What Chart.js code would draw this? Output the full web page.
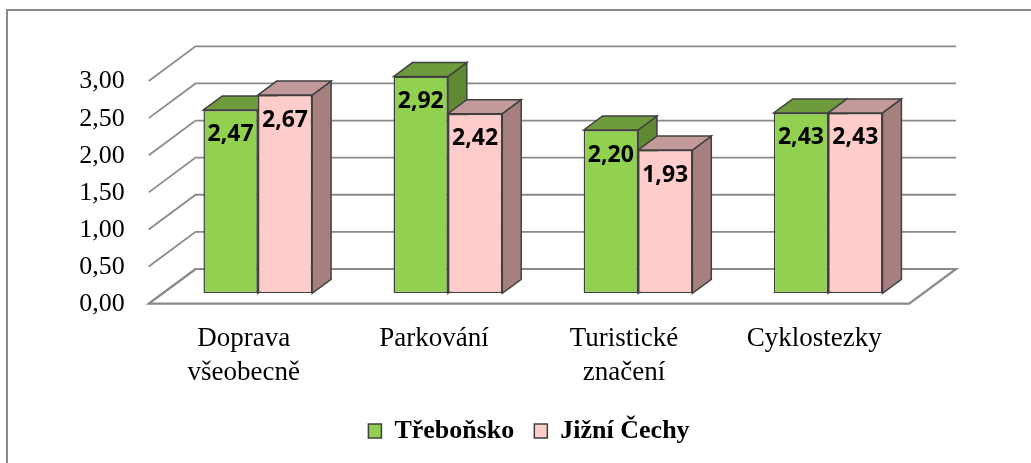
<!DOCTYPE html>
<html>
<head>
<meta charset="utf-8">
<script src="https://cdn.jsdelivr.net/npm/chart.js@4/dist/chart.umd.min.js"></script>
<style>
  html, body { margin: 0; padding: 0; background: #ffffff; }
  #wrap { position: relative; width: 1031px; height: 463px; }
</style>
</head>
<body>
<div id="wrap"><canvas id="c" width="1031" height="463"></canvas></div>
<script>
// ---- data ----
const categories = [['Doprava', 'všeobecně'], 'Parkování', ['Turistické', 'značení'], 'Cyklostezky'];
const seriesNames = ['Třeboňsko', 'Jižní Čechy'];
const trebonsko = [2.47, 2.92, 2.20, 2.43];
const jizniCechy = [2.67, 2.42, 1.93, 2.43];
const valueLabels = [['2,47', '2,92', '2,20', '2,43'], ['2,67', '2,42', '1,93', '2,43']];
const yTickLabels = ['0,00', '0,50', '1,00', '1,50', '2,00', '2,50', '3,00'];

// ---- styles ----
const frontColors = ['#92D050', '#FFCCCC'];
const topColors = ['#6E9C3D', '#C29A9A'];
const sideColors = ['#5F8A32', '#A6807E'];
const outline = '#404040';
const gridColor = '#8A8A8A';
const F = { dx: -14, dy: 10.4 };   // front plane offset from bar plane
const B = { dx: 32.8, dy: -24.3 }; // back wall offset from bar plane
const D = { dx: 18.9, dy: -14 };   // bar depth

function poly(ctx, pts, fill, stroke, lw) {
  ctx.beginPath();
  ctx.moveTo(pts[0][0], pts[0][1]);
  for (let i = 1; i < pts.length; i++) ctx.lineTo(pts[i][0], pts[i][1]);
  ctx.closePath();
  if (fill) { ctx.fillStyle = fill; ctx.fill(); }
  if (stroke) { ctx.strokeStyle = stroke; ctx.lineWidth = lw; ctx.lineJoin = 'miter'; ctx.stroke(); }
}

const threeD = {
  id: 'threeD',
  beforeDatasetsDraw(chart) {
    const ctx = chart.ctx;
    const a = chart.chartArea;
    const ys = chart.scales.y;
    ctx.save();
    // outer frame
    ctx.strokeStyle = gridColor; ctx.lineWidth = 2;
    ctx.beginPath();
    ctx.moveTo(7, chart.height + 5); ctx.lineTo(7, 10); ctx.lineTo(chart.width + 5, 10);
    ctx.stroke();

    const y0 = ys.getPixelForValue(0);
    // floor
    poly(ctx, [[a.left + F.dx, y0 + F.dy], [a.right + F.dx, y0 + F.dy], [a.right + B.dx, y0 + B.dy], [a.left + B.dx, y0 + B.dy]], '#ffffff', gridColor, 2.2);
    // grid lines on back and left walls
    ctx.strokeStyle = gridColor; ctx.lineWidth = 1.8;
    ys.ticks.forEach(t => {
      const y = ys.getPixelForValue(t.value);
      ctx.beginPath();
      ctx.moveTo(a.left + F.dx, y + F.dy);
      ctx.lineTo(a.left + B.dx, y + B.dy);
      ctx.lineTo(a.right + B.dx, y + B.dy);
      ctx.stroke();
    });

    // bar tops and sides (drawn before the front faces)
    const n = chart.data.labels.length;
    for (let i = 0; i < n; i++) {
      chart.data.datasets.forEach((ds, di) => {
        const el = chart.getDatasetMeta(di).data[i];
        const l = el.x - el.width / 2, r = el.x + el.width / 2;
        const top = el.y, base = el.base;
        // side
        poly(ctx, [[r, top], [r + D.dx, top + D.dy], [r + D.dx, base + D.dy], [r, base]], sideColors[di], outline, 1.5);
        // top
        poly(ctx, [[l, top], [l + D.dx, top + D.dy], [r + D.dx, top + D.dy], [r, top]], topColors[di], outline, 1.5);
      });
    }
    ctx.restore();
  },
  afterDatasetsDraw(chart) {
    const ctx = chart.ctx;
    ctx.save();
    ctx.fillStyle = '#000000';
    ctx.font = 'bold 23px "Open Sans"';
    ctx.textAlign = 'center';
    ctx.textBaseline = 'middle';
    chart.data.datasets.forEach((ds, di) => {
      chart.getDatasetMeta(di).data.forEach((el, i) => {
        ctx.fillText(valueLabels[di][i], el.x, el.y + 25);
      });
    });
    ctx.restore();
  }
};

new Chart(document.getElementById('c'), {
  type: 'bar',
  data: {
    labels: categories,
    datasets: [
      { label: seriesNames[0], data: trebonsko, backgroundColor: frontColors[0], borderColor: outline, borderWidth: 1.5, borderSkipped: false },
      { label: seriesNames[1], data: jizniCechy, backgroundColor: frontColors[1], borderColor: outline, borderWidth: 1.5, borderSkipped: false }
    ]
  },
  options: {
    responsive: false,
    animation: false,
    events: [],
    categoryPercentage: 0.572,
    barPercentage: 1.0,
    layout: { padding: { top: 70.6, left: 27, right: 0, bottom: 9 } },
    plugins: {
      tooltip: { enabled: false },
      legend: {
        position: 'bottom',
        labels: {
          boxWidth: 13, boxHeight: 14, padding: 20,
          color: '#000000',
          font: { family: '"Liberation Serif", "Times New Roman", serif', size: 26, weight: 'bold' }
        }
      }
    },
    scales: {
      x: {
        grid: { display: false, drawTicks: false },
        border: { display: false },
        ticks: {
          autoSkip: false, maxRotation: 0, minRotation: 0,
          padding: 29, labelOffset: -14, color: '#000000',
          font: { family: '"Liberation Serif", "Times New Roman", serif', size: 27, lineHeight: 34 / 27 }
        },
        afterFit: s => { s.height = 104.7; }
      },
      y: {
        min: 0, max: 3,
        grid: { display: false, drawTicks: false },
        border: { display: false },
        ticks: {
          stepSize: 0.5, padding: 38, labelOffset: 11, color: '#000000',
          font: { family: '"Liberation Serif", "Times New Roman", serif', size: 26 },
          callback: (v, i) => yTickLabels[i]
        },
        afterFit: s => { s.width = 135.75; }
      },
      yRight: {
        type: 'linear', position: 'right', display: true,
        grid: { display: false, drawTicks: false },
        border: { display: false },
        ticks: { display: false },
        afterFit: s => { s.width = 107.8; }
      }
    }
  },
  plugins: [threeD]
});
</script>
</body>
</html>
